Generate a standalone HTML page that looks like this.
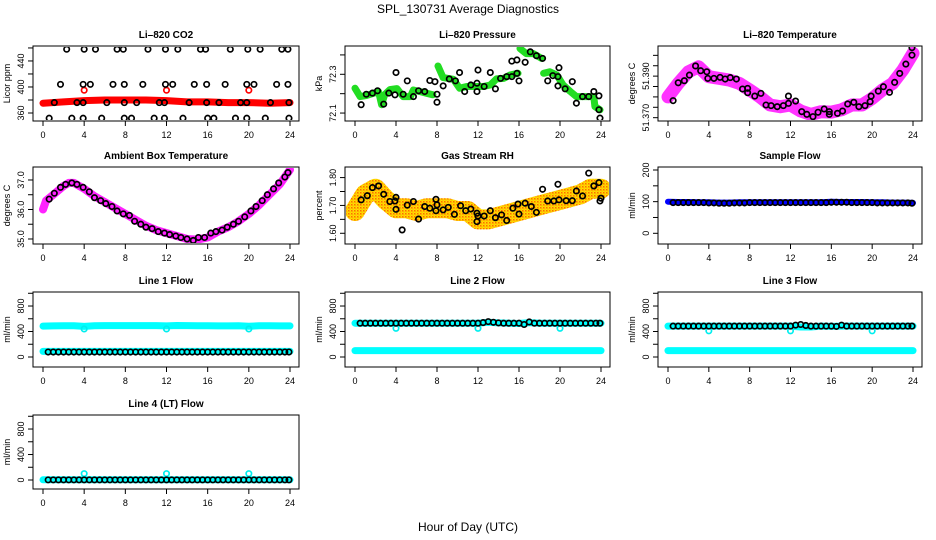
<!DOCTYPE html>
<html><head><meta charset="utf-8">
<style>
html,body{margin:0;padding:0;background:#fff;}
svg{display:block;font-family:"Liberation Sans",sans-serif;}
.t{font-size:10px;font-weight:bold;text-anchor:middle;}
.tk{font-size:9px;text-anchor:middle;}
</style></head>
<body>
<svg id="c" width="936" height="540" viewBox="0 0 936 540">
<defs>
<pattern id="rhpat" width="3" height="3" patternUnits="userSpaceOnUse">
<rect width="3" height="3" fill="#ffe000"/><rect x="0" y="0" width="1.5" height="1.5" fill="#ff6a00"/><rect x="1.5" y="1.5" width="1" height="1" fill="#ff9000"/>
</pattern>
</defs>
<text x="468" y="13" font-size="12" text-anchor="middle">SPL_130731  Average Diagnostics</text>
<text x="468" y="531" font-size="12" text-anchor="middle">Hour of Day (UTC)</text>
</svg>
<script>
// ---------- data ----------
const halfHours = [0.5,1,1.5,2,2.5,3,3.5,4,4.5,5,5.5,6,6.5,7,7.5,8,8.5,9,9.5,10,10.5,11,11.5,12,12.5,13,13.5,14,14.5,15,15.5,16,16.5,17,17.5,18,18.5,19,19.5,20,20.5,21,21.5,22,22.5,23,23.5,23.9];
const fullHours = [0,1,2,3,4,5,6,7,8,9,10,11,12,13,14,15,16,17,18,19,20,21,22,23,24];
const xTickLabels = ["0","4","8","12","16","20","24"];

// CO2
const co2SmearHours = [0,2,4,6,8,10,12,14,16,18,20,22,24];
const co2SmearVals = [375,377,379,380,380,380,379,377,377,376,376,375,376];
const co2RedHours = [4,12,20];
const co2RedVals = [395,395,395];
const co2BlackHours = [2.3,4.0,5.1,7.2,7.8,10.2,11.9,13.1,15.3,15.8,18.2,19.9,21.1,23.2,23.8, 1.7,3.9,4.6,6.8,7.9,9.7,11.9,12.6,14.7,15.9,17.7,19.8,20.5,22.7,23.8, 1.1,3.3,3.9,6.2,7.9,9.1,11.3,11.8,14.2,15.9,17.1,19.2,19.8,22.1,23.9, 0.6,2.8,3.9,5.7,7.9,8.6,10.8,11.8,13.6,16.0,16.6,18.7,19.8,21.6,23.9];
const co2BlackVals = [458,458,458,458,458,458,458,458,458,458,458,458,458,458,458, 404,404,404,404,404,404,404,404,404,404,404,404,404,404,404, 376,376,376,376,376,376,376,376,376,376,376,376,376,376,376, 352,352,352,352,352,352,352,352,352,352,352,352,352,352,352];

// Pressure
const presSmearHours = [0,0.5,1.1,1.8,2.3,2.6,2.9,3.4,4.1,4.7,5.4,5.7,6.3,7.0,7.6,null,8.1,8.6,9.6,10.2,10.9,11.9,12.5,13.2,13.8,14.5,15.1,15.9,null,16.1,16.7,17.4,18.2,null,18.4,19.0,19.7,20.3,21.0,21.6,22.3,23.3,23.4,23.9];
const presSmearVals = [72.228,72.185,72.190,72.202,72.210,72.143,72.195,72.221,72.226,72.185,72.185,72.219,72.211,72.202,72.194,null,72.343,72.283,72.274,72.228,72.237,72.237,72.237,72.245,72.276,72.279,72.296,72.305,null,72.433,72.407,72.407,72.382,null,72.305,72.313,72.296,72.245,72.211,72.185,72.185,72.185,72.134,72.117];
const presBlackHours = [0.6,1.1,1.7,2.2,2.8,3.3,3.9,4.0,4.7,5.1,5.7,6.2,6.8,7.3,7.8,8.0,8.0,8.6,9.2,9.8,10.2,10.7,11.3,11.9,11.9,12.0,12.6,13.2,13.7,14.2,14.8,15.3,16.0,15.8,15.3,15.8,16.6,17.1,17.7,18.3,18.8,19.3,19.8,19.8,19.9,20.5,21.2,21.6,22.2,22.8,23.3,23.8,23.8,23.9];
const presBlackVals = [72.143,72.197,72.203,72.215,72.146,72.203,72.194,72.309,72.197,72.266,72.185,72.215,72.211,72.268,72.262,72.197,72.156,72.240,72.276,72.266,72.309,72.211,72.245,72.211,72.254,72.322,72.237,72.309,72.225,72.279,72.288,72.288,72.266,72.305,72.368,72.374,72.362,72.416,72.396,72.382,72.266,72.293,72.288,72.240,72.334,72.225,72.262,72.151,72.185,72.185,72.211,72.189,72.117,72.074];

// Li-820 temperature
const ltSmearVals = [51.3800,51.3865,51.3921,51.3945,51.3897,51.3889,51.3881,51.3865,51.3833,51.3800,51.3761,51.3753,51.3761,51.3732,51.3716,51.3729,51.3727,51.3738,51.3761,51.3761,51.3793,51.3833,51.3865,51.3929,51.4010];
const ltBlackHours = [0.5,1.0,1.6,2.1,2.7,3.2,3.8,3.9,4.5,5.1,5.6,6.1,6.7,7.3,7.8,7.8,8.5,9.1,9.6,10.1,10.7,11.3,11.8,11.8,12.5,13.1,13.6,14.2,14.7,15.3,15.8,15.8,16.6,17.1,17.6,18.2,18.7,19.3,19.8,19.9,20.6,21.1,21.7,22.2,22.7,23.3,23.9,23.9];
const ltBlackVals = [51.3782,51.3868,51.3878,51.3905,51.3949,51.3926,51.3921,51.3889,51.3889,51.3894,51.3886,51.3893,51.3886,51.3838,51.3841,51.3820,51.3804,51.3817,51.3761,51.3758,51.3753,51.3758,51.3804,51.3769,51.3780,51.3729,51.3716,51.3705,51.3726,51.3742,51.3729,51.3716,51.3721,51.3732,51.3766,51.3774,51.3753,51.3758,51.3777,51.3804,51.3828,51.3849,51.3822,51.3870,51.3913,51.3958,51.4001,51.4037];

// Ambient box temperature
const abSmearHours = [0,0.3,1,2,2.5,3,4,5,6,7,8,9,10,11,12,13,14,15,16,17,18,19,20,21,22,23,24];
const abSmearVals = [36.0,36.3,36.5,36.8,36.9,36.9,36.7,36.45,36.25,36.05,35.85,35.65,35.45,35.3,35.2,35.1,35.0,34.98,35.05,35.25,35.4,35.6,35.85,36.15,36.5,36.85,37.35];
const abBlackHours = [0.6,1.1,1.7,2.2,2.8,3.3,3.9,4.5,5.0,5.6,6.1,6.7,7.2,7.8,8.4,8.9,9.5,10.0,10.6,11.2,11.8,12.3,12.9,13.4,14.0,14.6,15.1,15.7,16.3,16.8,17.4,17.9,18.5,19.0,19.6,20.2,20.7,21.3,21.8,22.4,22.9,23.5,23.8];
const abBlackVals = [36.35,36.55,36.75,36.85,36.9,36.85,36.75,36.6,36.4,36.3,36.2,36.1,35.95,35.85,35.8,35.6,35.5,35.4,35.35,35.25,35.2,35.15,35.1,35.05,35.0,34.95,35.05,35.05,35.2,35.25,35.3,35.4,35.5,35.6,35.75,35.95,36.1,36.3,36.5,36.7,36.9,37.1,37.25];

// Gas stream RH
const rhSmearVals = [1.68,1.74,1.76,1.72,1.69,1.69,1.68,1.69,1.69,1.69,1.68,1.68,1.65,1.65,1.66,1.67,1.68,1.69,1.70,1.71,1.72,1.73,1.74,1.76,1.76];
const rhBlackHours = [0.6,1.2,1.7,2.3,2.8,3.4,3.9,4.0,4.0,4.6,5.1,5.7,6.2,6.8,7.3,7.9,7.9,8.0,8.6,9.1,9.7,10.3,10.8,11.3,11.9,11.9,12.0,12.6,13.2,13.7,14.3,14.8,15.4,15.9,16.0,16.6,17.2,17.7,18.3,18.8,19.4,19.8,19.9,20.6,21.2,21.6,22.2,22.8,23.3,23.8,23.9,24.0];
const rhBlackVals = [1.720,1.735,1.764,1.770,1.740,1.714,1.716,1.729,1.686,1.612,1.701,1.714,1.651,1.696,1.690,1.722,1.681,1.702,1.684,1.693,1.668,1.699,1.681,1.687,1.672,1.642,1.662,1.662,1.681,1.656,1.666,1.646,1.690,1.705,1.669,1.708,1.696,1.675,1.758,1.716,1.716,1.776,1.720,1.717,1.717,1.752,1.734,1.816,1.770,1.782,1.716,1.726];

// Sample flow
const sfSmearVals = [100,99,99,98,98,97,97,98,98,98,98,98,98,98,98,98,100,99,99,99,98,98,97,97,96];
const sfBlackVals = [97,97,97,97,97,97,97,96,96,95,95,95,96,96,96,97,97,97,97,97,97,97,97,97,97,97,97,97,97,97,97,98,98,98,98,97,97,97,97,97,96,96,96,96,96,96,96,95];

// Line 1
const l1UpperVals = [485,488,490,490,480,490,492,492,492,492,492,492,488,495,492,490,490,488,488,490,482,490,490,488,488];
const l1LowerVals = [88,88,88,88,88,88,88,88,88,88,88,88,88,88,88,88,88,88,88,88,88,88,88,88,88];
const l1BlackVals = [78,78,78,78,78,78,78,78,78,78,78,78,78,78,78,78,78,78,78,78,78,78,78,78,78,78,78,78,78,78,78,78,78,78,78,78,78,78,78,78,78,78,78,78,78,78,78,78];
const l1DipHours = [4,12,20];
const l1DipVals = [440,440,440];

// Line 2
const l2UpperVals = [530,530,530,530,530,530,530,530,530,530,530,530,530,545,535,530,525,540,530,530,530,530,530,530,530];
const l2LowerVals = [100,100,100,100,100,100,100,100,100,100,100,100,100,100,100,100,100,100,100,100,100,100,100,100,100];
const l2BlackVals = [530,530,530,530,530,530,530,530,530,530,530,530,530,530,530,530,530,530,530,530,530,530,530,530,540,555,545,535,530,530,530,530,510,550,530,530,530,530,530,530,530,530,530,530,530,530,530,530];
const l2DipHours = [4,12,20];
const l2DipVals = [450,450,450];

// Line 3
const l3UpperVals = [485,485,485,485,485,485,485,485,485,485,485,485,485,470,470,485,480,485,485,485,485,485,485,485,485];
const l3LowerVals = [100,100,100,100,100,100,100,100,100,100,100,100,100,100,100,100,100,100,100,100,100,100,100,100,100];
const l3BlackVals = [485,485,485,485,485,485,485,485,485,485,485,485,485,485,485,485,485,485,485,485,485,485,485,485,500,510,495,485,485,485,485,485,480,500,485,485,485,485,485,485,485,485,485,485,485,485,485,485];
const l3DipHours = [4,12,20];
const l3DipVals = [410,410,410];

// Line 4
const l4LowerVals = [3,3,3,3,3,3,3,3,3,3,3,3,3,3,3,3,3,3,3,3,3,3,3,3,3];
const l4BlackVals = [2,2,2,2,2,2,2,2,2,2,2,2,2,2,2,2,2,2,2,2,2,2,2,2,2,2,2,2,2,2,2,2,2,2,2,2,2,2,2,2,2,2,2,2,2,2,2,2];
const l4DipHours = [4,12,20];
const l4DipVals = [100,100,100];

// ---------- layout ----------
const NS = "http://www.w3.org/2000/svg";
const svg = document.getElementById('c');
const colX0 = [43,355,668], colX24 = [290,601,913];
const rowTop = [46,167,292,415], rowBot = [121,244,367,489];

function mk(tag, attrs, parent){
  const e = document.createElementNS(NS, tag);
  for (const k in attrs) e.setAttribute(k, attrs[k]);
  (parent||svg).appendChild(e);
  return e;
}

function panel(o){
  const g = mk('g', {});
  
  
  const x0 = colX0[o.col], x24 = colX24[o.col], top = rowTop[o.row], bot = rowBot[o.row];
  const left = x0 - 10, right = x24 + 9;
  const sx = h => x0 + (h/24)*(x24-x0);
  const sy = v => bot - (v - o.ymin)/(o.ymax - o.ymin)*(bot-top);
  const box = mk('rect', {x:left, y:top, width:right-left, height:bot-top, fill:'none', stroke:'#000', 'stroke-width':1}, g);
  
  
  const tt = mk('text', {x:(left+right)/2, y:top-8, class:'t'}, g);
  tt.textContent = o.title;
  
  
  mk('line', {x1:sx(0), x2:sx(24), y1:bot, y2:bot, stroke:'#000'}, g);
  xTickLabels.forEach(lab => {
    const h = +lab;
    mk('line', {x1:sx(h), x2:sx(h), y1:bot, y2:bot+5, stroke:'#000'}, g);
    const t = mk('text', {x:sx(h), y:bot+17, class:'tk'}, g);
    t.textContent = lab;
    
    
  });
  const yt = o.yticks;
  mk('line', {x1:left, x2:left, y1:sy(yt[0]), y2:sy(yt[yt.length-1]), stroke:'#000'}, g);
  yt.forEach(v => mk('line', {x1:left-5, x2:left, y1:sy(v), y2:sy(v), stroke:'#000'}, g));
  o.ylabels.forEach((lab, i) => {
    const y = sy(o.ylabelVals[i]);
    const t = mk('text', {x:0, y:0, class:'tk', transform:`translate(${left-9},${y}) rotate(-90)`}, g);
    t.textContent = lab;
    
    
  });
  const yl = mk('text', {x:0, y:0, class:'tk', transform:`translate(${left-23},${(top+bot)/2}) rotate(-90)`}, g);
  yl.textContent = o.ylab;
  
  
  const cid = 'clip' + o.name;
  const cp = mk('clipPath', {id:cid}, g);
  mk('rect', {x:left+1, y:top+1, width:right-left-2, height:bot-top-2}, cp);
  const pg = mk('g', {'clip-path':`url(#${cid})`}, g);
  return {g:pg, sx, sy};
}

function smear(P, hours, vals, color, width, name){
  let d = '', pen = false;
  hours.forEach((h, i) => {
    const v = vals[i];
    if (h === null || v === null) { pen = false; return; }
    d += (pen ? 'L' : 'M') + P.sx(h).toFixed(1) + ' ' + P.sy(v).toFixed(1) + ' ';
    pen = true;
  });
  const p = mk('path', {d, fill:'none', stroke:color, 'stroke-width':width, 'stroke-linejoin':'round', 'stroke-linecap':'round'}, P.g);
  
  
}

function circles(P, hours, vals, color, name){
  hours.forEach((h, i) => {
    const c = mk('circle', {cx:P.sx(h), cy:P.sy(vals[i]), r:2.7, fill:'none', stroke:color, 'stroke-width':1.7}, P.g);
    
    
  });
}

let P = panel({name:'co2', col:0, row:0, title:'Li\u2013820 CO2', ylab:'Licor ppm', ymin:347.7, ymax:463, yticks:[360,380,400,420,440,460], ylabels:['360','400','440'], ylabelVals:[360,400,440]});
smear(P, co2SmearHours, co2SmearVals, '#ff0000', 7, 'co2-smear');
circles(P, co2RedHours, co2RedVals, '#ff0000', 'co2-red-point');
circles(P, co2BlackHours, co2BlackVals, '#000', 'co2-avg-point');

P = panel({name:'pressure', col:1, row:0, title:'Li\u2013820 Pressure', ylab:'kPa', ymin:72.059, ymax:72.446, yticks:[72.1,72.2,72.3,72.4], ylabels:['72.1','72.3'], ylabelVals:[72.1,72.3]});
smear(P, presSmearHours, presSmearVals, '#22dd22', 7, 'pressure-smear');
circles(P, presBlackHours, presBlackVals, '#000', 'pressure-avg-point');

P = panel({name:'licor-temp', col:2, row:0, title:'Li\u2013820 Temperature', ylab:'degrees C', ymin:51.3684, ymax:51.4045, yticks:[51.370,51.375,51.380,51.385,51.390,51.395,51.400], ylabels:['51.370','51.390'], ylabelVals:[51.370,51.390]});
smear(P, fullHours, ltSmearVals, '#ff33ff', 13, 'licor-temp-smear');
circles(P, ltBlackHours, ltBlackVals, '#000', 'licor-temp-avg-point');

P = panel({name:'ambient', col:0, row:1, title:'Ambient Box Temperature', ylab:'degrees C', ymin:34.83, ymax:37.44, yticks:[35,35.5,36,36.5,37], ylabels:['35.0','36.0','37.0'], ylabelVals:[35,36,37]});
smear(P, abSmearHours, abSmearVals, '#ff22ff', 8, 'ambient-smear');
circles(P, abBlackHours, abBlackVals, '#000', 'ambient-avg-point');

P = panel({name:'rh', col:1, row:1, title:'Gas Stream RH', ylab:'percent', ymin:1.5615, ymax:1.838, yticks:[1.60,1.65,1.70,1.75,1.80], ylabels:['1.60','1.70','1.80'], ylabelVals:[1.60,1.70,1.80]});
smear(P, fullHours, rhSmearVals, 'url(#rhpat)', 20, 'rh-smear');
circles(P, rhBlackHours, rhBlackVals, '#000', 'rh-avg-point');

P = panel({name:'sample-flow', col:2, row:1, title:'Sample Flow', ylab:'ml/min', ymin:-33.8, ymax:209.5, yticks:[0,50,100,150,200], ylabels:['0','100','200'], ylabelVals:[0,100,200]});
smear(P, fullHours, sfSmearVals, '#0000ff', 6, 'sample-flow-smear');
circles(P, halfHours, sfBlackVals, '#000', 'sample-flow-avg-point');

const flowTicks = [0,200,400,600,800,1000];
function flowPanel(name, col, row, title, upper, lower, black, dipH, dipV, ymin, ymax){
  const Q = panel({name, col, row, title, ylab:'ml/min', ymin, ymax, yticks:flowTicks, ylabels:['0','400','800'], ylabelVals:[0,400,800]});
  if (upper) smear(Q, fullHours, upper, '#00ffff', 7, name + '-upper-smear');
  smear(Q, fullHours, lower, '#00ffff', 7, name + '-lower-smear');
  circles(Q, dipH, dipV, '#00eeee', name + '-cyan-point');
  circles(Q, halfHours, black, '#000', name + '-avg-point');
}
flowPanel('line1-flow', 0, 2, 'Line 1 Flow', l1UpperVals, l1LowerVals, l1BlackVals, l1DipHours, l1DipVals, -157, 1020);
flowPanel('line2-flow', 1, 2, 'Line 2 Flow', l2UpperVals, l2LowerVals, l2BlackVals, l2DipHours, l2DipVals, -157, 1020);
flowPanel('line3-flow', 2, 2, 'Line 3 Flow', l3UpperVals, l3LowerVals, l3BlackVals, l3DipHours, l3DipVals, -157, 1020);
flowPanel('line4-flow', 0, 3, 'Line 4 (LT) Flow', null, l4LowerVals, l4BlackVals, l4DipHours, l4DipVals, -141, 1020);
</script>
</body></html>
